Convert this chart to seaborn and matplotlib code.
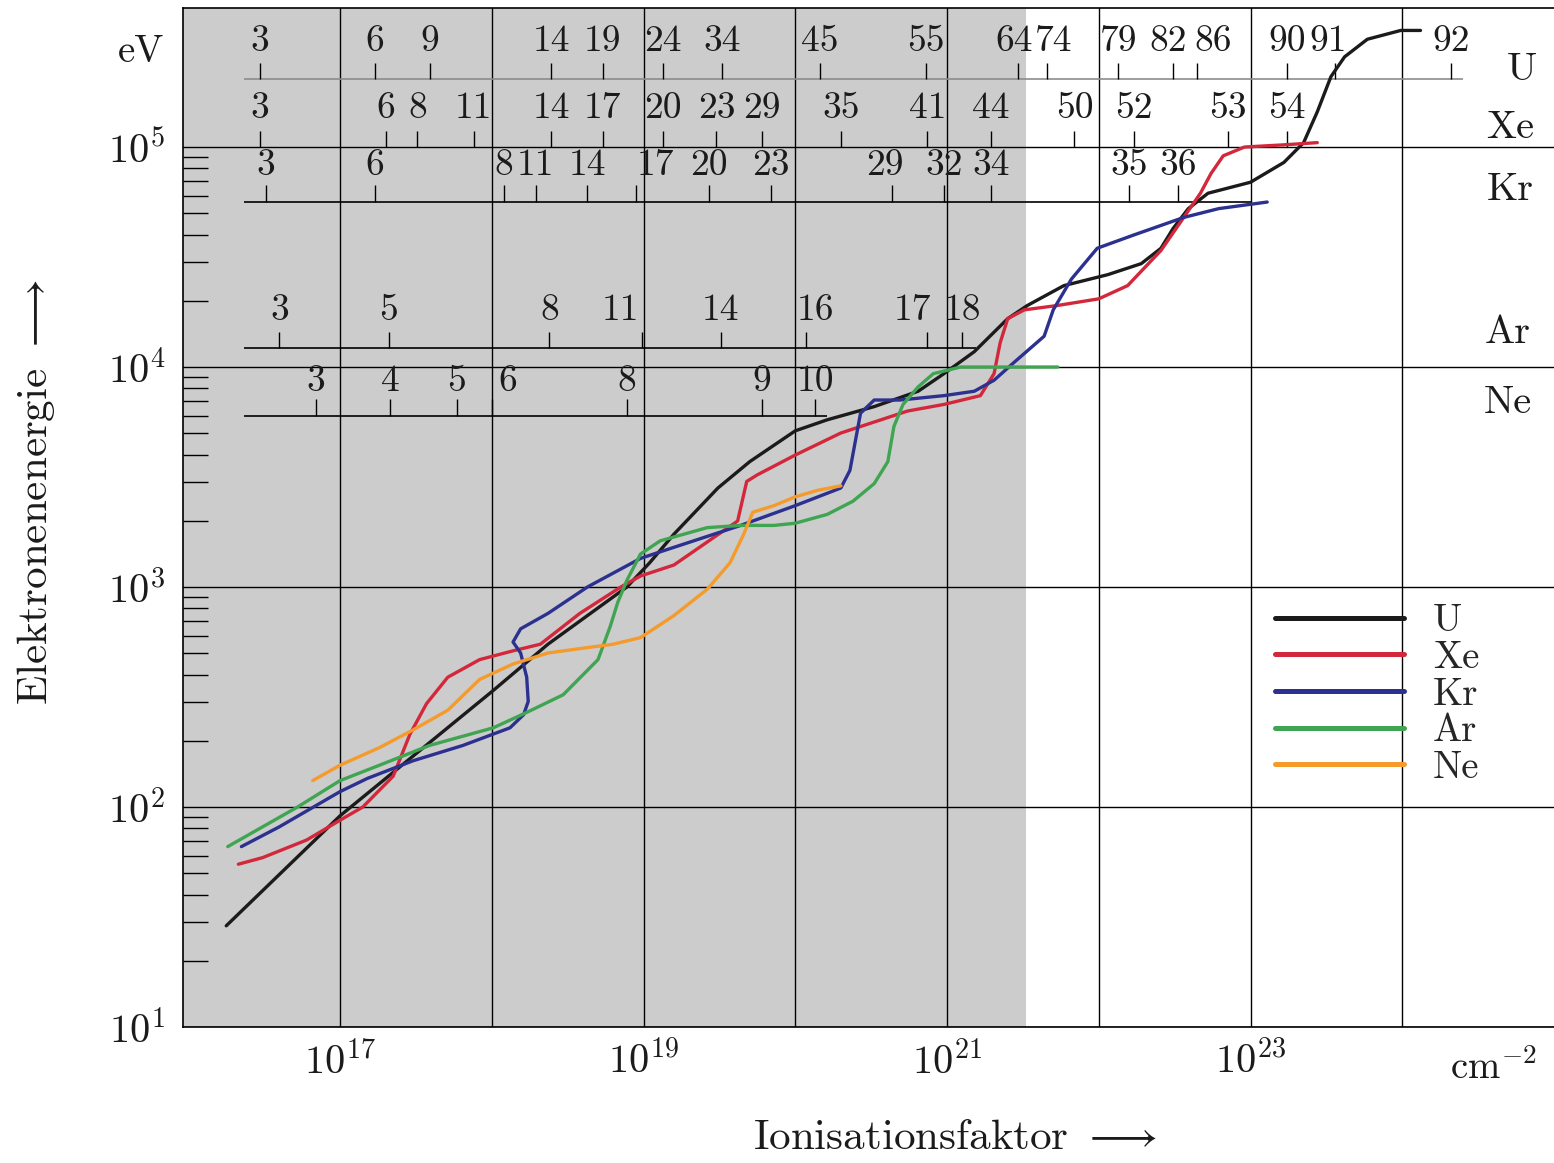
import numpy as np
import pandas as pd
import matplotlib
matplotlib.use("Agg")
import matplotlib.pyplot as plt
import seaborn as sns
from matplotlib.ticker import FixedLocator, FixedFormatter, NullFormatter

# curves: log10(ionisation factor / cm^-2) and log10(electron energy / eV)
U_lx = [16.25, 17.00, 18.01, 18.37, 18.89, 19.04, 19.20, 19.49, 19.70, 20.00, 20.21,
        20.52, 20.81, 20.98, 21.18, 21.40, 21.53, 21.77, 22.06, 22.28, 22.41, 22.49,
        22.59, 22.72, 23.00, 23.22, 23.35, 23.44, 23.53, 23.62, 23.77, 23.99, 24.12]
U_ly = [1.46, 1.96, 2.53, 2.74, 3.00, 3.11, 3.24, 3.45, 3.57, 3.71, 3.76,
        3.82, 3.89, 3.97, 4.07, 4.22, 4.28, 4.37, 4.42, 4.47, 4.54, 4.63,
        4.72, 4.79, 4.84, 4.93, 5.02, 5.16, 5.32, 5.41, 5.49, 5.53, 5.53]

Xe_lx = [16.33, 16.49, 16.78, 17.00, 17.15, 17.35, 17.46, 17.57, 17.71, 17.92, 18.14,
         18.32, 18.58, 18.85, 18.98, 19.20, 19.62, 19.68, 19.75, 20.00, 20.30, 20.74,
         20.98, 21.22, 21.31, 21.35, 21.40, 21.51, 21.73, 22.00, 22.19, 22.41, 22.56,
         22.67, 22.74, 22.82, 22.96, 23.22, 23.44]
Xe_ly = [1.74, 1.77, 1.85, 1.94, 2.00, 2.14, 2.33, 2.47, 2.59, 2.67, 2.71,
         2.74, 2.88, 3.00, 3.05, 3.10, 3.30, 3.48, 3.51, 3.60, 3.70, 3.80,
         3.83, 3.87, 3.97, 4.11, 4.22, 4.26, 4.28, 4.31, 4.37, 4.53, 4.68,
         4.79, 4.88, 4.96, 5.00, 5.01, 5.02]

Kr_lx = [16.35, 16.60, 17.00, 17.18, 17.48, 17.81, 18.12, 18.21, 18.24, 18.23, 18.19,
         18.14, 18.19, 18.37, 18.63, 18.98, 19.11, 19.64, 20.00, 20.30, 20.36, 20.43,
         20.52, 20.69, 20.98, 21.18, 21.31, 21.44, 21.64, 21.70, 21.82, 21.99, 22.23,
         22.56, 22.79, 23.11]
Kr_ly = [1.82, 1.91, 2.07, 2.13, 2.21, 2.28, 2.36, 2.42, 2.48, 2.59, 2.70,
         2.75, 2.81, 2.88, 3.00, 3.13, 3.16, 3.28, 3.37, 3.45, 3.53, 3.79,
         3.85, 3.85, 3.87, 3.89, 3.94, 4.02, 4.14, 4.26, 4.40, 4.54, 4.60,
         4.68, 4.72, 4.75]

Ar_lx = [16.26, 16.49, 16.72, 17.00, 17.26, 17.59, 18.01, 18.23, 18.47, 18.70, 18.78,
         18.83, 18.89, 18.98, 19.11, 19.42, 19.64, 19.86, 20.00, 20.21, 20.38, 20.52,
         20.61, 20.65, 20.71, 20.81, 20.91, 21.09, 21.29, 21.73]
Ar_ly = [1.82, 1.91, 2.00, 2.12, 2.19, 2.28, 2.36, 2.43, 2.51, 2.67, 2.82,
         2.93, 3.03, 3.15, 3.21, 3.27, 3.28, 3.28, 3.29, 3.33, 3.39, 3.47,
         3.57, 3.73, 3.83, 3.91, 3.97, 4.00, 4.00, 4.00]

Ne_lx = [16.82, 17.00, 17.26, 17.48, 17.71, 17.92, 18.14, 18.37, 18.58, 18.80,
         18.98, 19.20, 19.42, 19.57, 19.66, 19.72, 19.86, 20.00, 20.15, 20.30]
Ne_ly = [2.12, 2.19, 2.27, 2.35, 2.44, 2.58, 2.65, 2.70, 2.72, 2.74,
         2.77, 2.87, 2.99, 3.11, 3.24, 3.34, 3.37, 3.41, 3.44, 3.46]

# ionisation stage scales at the top (stage number, log10 ionisation factor)
U_stage = ["3", "6", "9", "14", "19", "24", "34", "45", "55", "64", "74", "79", "82", "86", "90", "91", "92"]
U_stage_lx = [16.47, 17.23, 17.59, 18.39, 18.73, 19.13, 19.52, 20.16, 20.86, 21.47, 21.66,
              22.13, 22.49, 22.65, 23.24, 23.56, 24.32]
Xe_stage = ["3", "6", "8", "11", "14", "17", "20", "23", "29", "35", "41", "44", "50", "52", "53", "54"]
Xe_stage_lx = [16.47, 17.30, 17.51, 17.88, 18.39, 18.73, 19.13, 19.48, 19.78, 20.30, 20.87,
               21.29, 21.84, 22.23, 22.85, 23.24]
Kr_stage = ["3", "6", "8", "11", "14", "17", "20", "23", "29", "32", "34", "35", "36"]
Kr_stage_lx = [16.51, 17.23, 18.08, 18.29, 18.63, 18.95, 19.43, 19.84, 20.64, 20.98, 21.29,
               22.20, 22.52]
Ar_stage = ["3", "5", "8", "11", "14", "16", "17", "18"]
Ar_stage_lx = [16.60, 17.32, 18.38, 18.99, 19.51, 20.07, 20.87, 21.10]
Ne_stage = ["3", "4", "5", "6", "8", "9", "10"]
Ne_stage_lx = [16.84, 17.33, 17.77, 18.00, 18.89, 19.78, 20.13]

elements = ["U", "Xe", "Kr", "Ar", "Ne"]
colors = {"U": "#1b1b1b", "Xe": "#d3283b", "Kr": "#2c3190", "Ar": "#3fa552", "Ne": "#f49b2c"}

sns.set_style("white")
plt.rcParams["font.family"] = ["cmr10", "DejaVu Serif"]
plt.rcParams["mathtext.fontset"] = "cm"
plt.rcParams["axes.unicode_minus"] = False
plt.rcParams["axes.formatter.use_mathtext"] = True

W, H = 1554, 1163
fig = plt.figure(figsize=(W / 100, H / 100), dpi=100)
ax = fig.add_axes([183 / W, 1 - 1027 / H, 1 - 183 / W, (1027 - 8) / H])

def fx(px):
    return px / W

def fy(py):
    return 1 - py / H

# long-form table for seaborn
rows = []
for el, lx, ly in [("U", U_lx, U_ly), ("Xe", Xe_lx, Xe_ly), ("Kr", Kr_lx, Kr_ly),
                   ("Ar", Ar_lx, Ar_ly), ("Ne", Ne_lx, Ne_ly)]:
    for a, b in zip(lx, ly):
        rows.append({"element": el, "x": 10 ** a, "y": 10 ** b})
df = pd.DataFrame(rows)

ax.set_xscale("log")
ax.set_yscale("log")
xmin, xmax = 10 ** 15.965, 10 ** 25.0
ymin, ymax = 10 ** 1.0, 10 ** 5.632
ax.set_xlim(xmin, xmax)
ax.set_ylim(ymin, ymax)

ax.axvspan(xmin, 10 ** 21.52, color="#cccccc", lw=0, zorder=0)

sns.lineplot(data=df, x="x", y="y", hue="element", hue_order=elements, palette=colors,
             sort=False, estimator=None, linewidth=2.4, legend=False, ax=ax, zorder=5)

# grid / ticks
ax.xaxis.set_major_locator(FixedLocator(10.0 ** np.arange(17, 25)))
ax.xaxis.set_major_formatter(FixedFormatter(
    [r"$10^{%d}$" % e if e % 2 == 1 else "" for e in range(17, 25)]))
ax.xaxis.set_minor_locator(FixedLocator([]))
ax.yaxis.set_major_locator(FixedLocator(10.0 ** np.arange(1, 6)))
ax.yaxis.set_major_formatter(FixedFormatter([r"$10^{%d}$" % e for e in range(1, 6)]))
ax.yaxis.set_minor_locator(FixedLocator([m * 10.0 ** e for e in range(1, 5) for m in range(2, 10)]))
ax.yaxis.set_minor_formatter(NullFormatter())
ax.grid(True, which="major", color="black", lw=1.0)
ax.set_axisbelow(True)
ax.tick_params(which="major", length=0, labelsize=29, colors="#1b1b1b")
ax.tick_params(axis="y", which="major", pad=13)
ax.tick_params(axis="x", which="major", pad=10)
ax.tick_params(axis="y", which="minor", direction="in", length=18, width=1.0, color="black", left=True)
for side in ["left", "top", "bottom"]:
    ax.spines[side].set_color("black")
    ax.spines[side].set_linewidth(1.2)
ax.spines["right"].set_visible(False)
ax.set_xlabel("")
ax.set_ylabel("")

# top scales
tick_h = 10 ** 0.075
label_dx = {("U", "64"): -4, ("U", "74"): 6, ("U", "82"): -5, ("U", "86"): 16, ("U", "91"): -7,
            ("Kr", "17"): 20, ("Kr", "29"): -8, ("Ar", "11"): -22, ("Ar", "16"): 10,
            ("Ar", "17"): -15, ("Ne", "6"): 16}
scales = [
    ("U", U_stage, U_stage_lx, 5.309, (16.37, 24.40), "#8c8c8c", 38),
    ("Xe", Xe_stage, Xe_stage_lx, 5.0, None, "black", 39),
    ("Kr", Kr_stage, Kr_stage_lx, 4.751, (16.37, 23.0), "black", 36),
    ("Ar", Ar_stage, Ar_stage_lx, 4.085, (16.37, 21.19), "black", 38),
    ("Ne", Ne_stage, Ne_stage_lx, 3.779, (16.37, 20.21), "black", 34),
]
for el, labs, lxs, base, span, lc, up in scales:
    yb = 10 ** base
    if span is not None:
        ax.hlines(yb, 10 ** span[0], 10 ** span[1], color=lc, lw=1.2, zorder=3)
    xs = 10.0 ** np.array(lxs)
    ax.vlines(xs, yb, yb * tick_h, color="black", lw=1.0, zorder=3)
    for lab, x in zip(labs, xs):
        dx = label_dx.get((el, lab), 0)
        ax.annotate(lab, xy=(x, yb), xytext=(dx / 1.389, up / 1.389), textcoords="offset points",
                    ha="center", va="center", fontsize=27, color="#1b1b1b", zorder=4)

# element names at the right
for el, px, py in [("U", 1522, 70), ("Xe", 1510, 128), ("Kr", 1510, 190), ("Ar", 1508, 333), ("Ne", 1508, 403)]:
    fig.text(fx(px), fy(py), el, ha="center", va="center", fontsize=29, color="#1b1b1b")

# legend
handles = [plt.Line2D([], [], color=colors[e], lw=3.6) for e in elements]
leg = ax.legend(handles, elements, loc="upper left", bbox_to_anchor=(fx(1256), fy(584)),
                bbox_transform=fig.transFigure, frameon=False, fontsize=28,
                handlelength=3.3, handletextpad=0.75, labelspacing=0.02, borderpad=0)

# unit and axis labels
fig.text(fx(141), fy(52), "eV", ha="center", va="center", fontsize=28, color="#1b1b1b")
fig.text(fx(1493), fy(1068), r"cm$^{-2}$", ha="center", va="center", fontsize=28, color="#1b1b1b")
fig.text(fx(36), fy(492), r"Elektronenenergie $\longrightarrow$", rotation=90,
         ha="center", va="center", fontsize=31, color="#1b1b1b")
fig.text(fx(955), fy(1138), r"Ionisationsfaktor $\longrightarrow$",
         ha="center", va="center", fontsize=31, color="#1b1b1b")

fig.savefig("out.png", dpi=100)
